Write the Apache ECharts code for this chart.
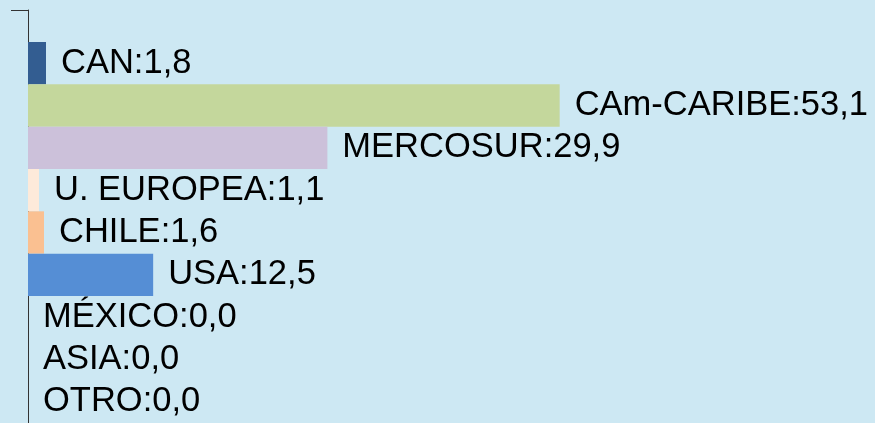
<!DOCTYPE html>
<html>
<head>
<meta charset="utf-8">
<script src="https://cdn.jsdelivr.net/npm/echarts@6/dist/echarts.min.js"></script>
<style>
  html, body { margin: 0; padding: 0; background: #cde8f3; }
  #chart { width: 875px; height: 423px; }
</style>
</head>
<body>
<div id="chart"></div>
<script>
// datos de exportaciones por destino (%)
const categories = ['CAN', 'CAm-CARIBE', 'MERCOSUR', 'U. EUROPEA', 'CHILE', 'USA', 'MÉXICO', 'ASIA', 'OTRO'];
const values = [1.8, 53.1, 29.9, 1.1, 1.6, 12.5, 0.0, 0.0, 0.0];

const barColors = ['#335d91', '#c4d79c', '#ccc1da', '#fdeada', '#fac091', '#558ed5', '#558ed5', '#558ed5', '#558ed5'];

const chart = echarts.init(document.getElementById('chart'));

const option = {
  backgroundColor: '#cde8f3',
  color: barColors,
  animation: false,
  grid: [
    { left: 28, right: 46, top: 42, bottom: -1.5 },
    // solo para la línea del eje vertical
    { left: 28, right: 46, top: 10, bottom: -5 }
  ],
  xAxis: [
    { type: 'value', gridIndex: 0, min: 0, max: 80, show: false },
    { type: 'value', gridIndex: 1, min: 0, max: 1, show: false }
  ],
  yAxis: [
    {
      type: 'category',
      gridIndex: 0,
      data: categories,
      inverse: true,
      axisLine: { show: false },
      axisTick: { show: false },
      axisLabel: { show: false },
      splitLine: { show: false }
    },
    {
      type: 'value',
      gridIndex: 1,
      min: 0,
      max: 1,
      interval: 1,
      axisLine: { show: true, lineStyle: { color: '#333', width: 1 } },
      axisTick: { show: true, length: 17, lineStyle: { color: '#333' } },
      axisLabel: { show: false },
      splitLine: { show: false }
    }
  ],
  series: [
    {
      type: 'bar',
      xAxisIndex: 0,
      yAxisIndex: 0,
      colorBy: 'data',
      barCategoryGap: '0%',
      data: values,
      label: {
        show: true,
        position: 'right',
        distance: 15,
        color: '#000',
        fontFamily: '"Liberation Sans Narrow", "Arial Narrow", "Liberation Sans", sans-serif',
        fontSize: 34.5,
        formatter: p => p.name + ':' + p.value.toFixed(1).replace('.', ',')
      }
    }
  ]
};

chart.setOption(option);
</script>
</body>
</html>
